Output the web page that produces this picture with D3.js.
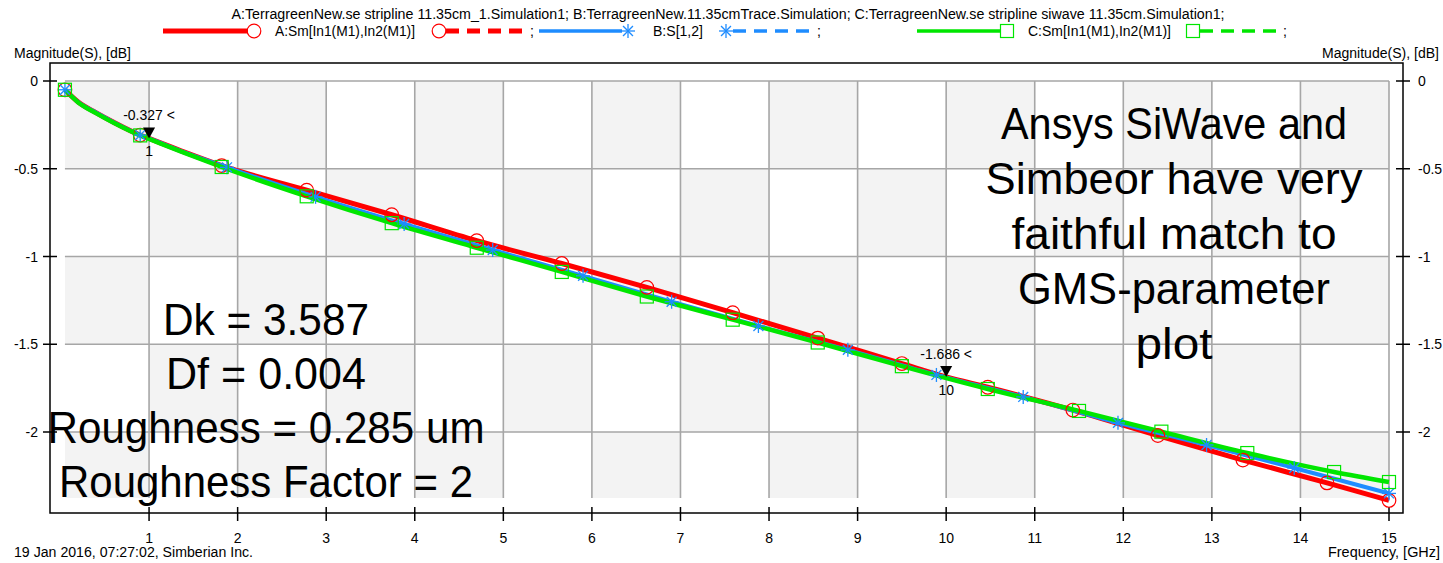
<!doctype html>
<html>
<head>
<meta charset="utf-8"/>
<title>S-parameter comparison</title>
<style>
body{margin:0;background:#fff;}
text{font-family:"Liberation Sans",Arial,sans-serif;}
</style>
<script src="https://d3js.org/d3.v7.min.js"></script>
</head>
<body>
<script>
// ---- data ----
var titleText = "A:TerragreenNew.se stripline 11.35cm_1.Simulation1; B:TerragreenNew.11.35cmTrace.Simulation; C:TerragreenNew.se stripline siwave 11.35cm.Simulation1;";
var seriesNames = ["A:Sm[In1(M1),In2(M1)]", "B:S[1,2]", "C:Sm[In1(M1),In2(M1)]"];

// A (red)
var aFreq = [0.05,0.2,0.4,0.6,0.9,1,1.4,1.82,2.78,3.74,4.70,5.66,6.62,7.59,8.55,9.5,10,10.47,11.43,12.39,13.35,14.3,15];
var aMag  = [-0.05,-0.12,-0.18,-0.235,-0.308,-0.327,-0.405,-0.482,-0.622,-0.762,-0.91,-1.04,-1.176,-1.32,-1.465,-1.61,-1.686,-1.745,-1.875,-2.02,-2.16,-2.29,-2.39];
var aMarks = [0.05,0.9,1.82,2.78,3.74,4.70,5.66,6.62,7.59,8.55,9.5,10.47,11.43,12.39,13.35,14.3,15];

// B (blue)
var bFreq = [0.05,0.2,0.4,0.6,0.9,1,1.4,1.88,2.88,3.88,4.88,5.9,6.9,7.88,8.89,9.89,10.87,11.94,12.94,13.93,15];
var bMag  = [-0.05,-0.12,-0.18,-0.235,-0.308,-0.327,-0.407,-0.492,-0.66,-0.815,-0.963,-1.11,-1.258,-1.396,-1.532,-1.675,-1.80,-1.948,-2.074,-2.205,-2.35];
var bMarks = [0.05,0.9,1.88,2.88,3.88,4.88,5.9,6.9,7.88,8.89,9.89,10.87,11.94,12.94,13.93,15];

// C (green)
var cFreq = [0.05,0.2,0.4,0.6,0.9,1,1.4,1.82,2.78,3.74,4.70,5.66,6.62,7.59,8.55,9.5,10.47,11.5,12.43,13.4,14.38,15];
var cMag  = [-0.05,-0.122,-0.183,-0.238,-0.31,-0.33,-0.41,-0.49,-0.657,-0.81,-0.95,-1.088,-1.228,-1.36,-1.49,-1.625,-1.755,-1.88,-1.998,-2.12,-2.228,-2.285];
var cMarks = [0.05,0.9,1.82,2.78,3.74,4.70,5.66,6.62,7.59,8.55,9.5,10.47,11.5,12.43,13.4,14.38,15];

// data markers on trace A
var mkFreq = [1, 10];
var mkMag = [-0.327, -1.686];
var mkName = ["1", "10"];

var xTicks = [1,2,3,4,5,6,7,8,9,10,11,12,13,14,15];
var yTicks = [0,-0.5,-1,-1.5,-2];
var yTickLabels = ["0","-0.5","-1","-1.5","-2"];

var noteLeft = ["Dk = 3.587","Df = 0.004","Roughness = 0.285 um","Roughness Factor = 2"];
var noteRight = ["Ansys SiWave and","Simbeor have very","faithful match to","GMS-parameter","plot"];

// ---- drawing ----
var W = 1443, H = 563;
var svg = d3.select("body").append("svg").attr("width", W).attr("height", H);

var x = d3.scaleLinear().domain([0, 15]).range([60.5, 1389]);
var y = d3.scaleLinear().domain([0, -2]).range([81, 432]);

var fMin = 0.05, yMin = -2.376;
var colB = [fMin].concat(d3.range(1, 16));
var rowB = [0, -0.5, -1, -1.5, -2, yMin];

// checker background
var cells = [];
for (var c = 0; c < colB.length - 1; c++)
  for (var r = 0; r < rowB.length - 1; r++)
    cells.push({c: c, r: r});
svg.selectAll("rect.cell").data(cells).enter().append("rect")
  .attr("x", function(d){ return x(colB[d.c]); })
  .attr("y", function(d){ return y(rowB[d.r]); })
  .attr("width", function(d){ return x(colB[d.c+1]) - x(colB[d.c]); })
  .attr("height", function(d){ return y(rowB[d.r+1]) - y(rowB[d.r]); })
  .attr("fill", function(d){ return (d.c + d.r) % 2 == 0 ? "#f3f3f3" : "#ffffff"; });

// grid
svg.selectAll("line.vg").data(xTicks).enter().append("line")
  .attr("x1", function(d){ return x(d); }).attr("x2", function(d){ return x(d); })
  .attr("y1", y(0)).attr("y2", y(yMin))
  .attr("stroke", "#a6a6a6").attr("stroke-width", 1.6);
svg.selectAll("line.hg").data(yTicks).enter().append("line")
  .attr("x1", x(fMin)).attr("x2", x(15))
  .attr("y1", function(d){ return y(d); }).attr("y2", function(d){ return y(d); })
  .attr("stroke", "#a6a6a6").attr("stroke-width", 1.6);

// frame
var fx0 = 50, fy0 = 63, fx1 = 1403, fy1 = 513;
svg.append("rect").attr("x", fx0).attr("y", fy0).attr("width", fx1 - fx0).attr("height", fy1 - fy0)
  .attr("fill", "none").attr("stroke", "#000").attr("stroke-width", 1.5);

// ticks
svg.selectAll("line.lt").data(yTicks).enter().append("line")
  .attr("x1", fx0 - 7).attr("x2", fx0 + 7)
  .attr("y1", function(d){ return y(d); }).attr("y2", function(d){ return y(d); })
  .attr("stroke", "#000").attr("stroke-width", 1.5);
svg.selectAll("line.rt").data(yTicks).enter().append("line")
  .attr("x1", fx1 - 7).attr("x2", fx1 + 7)
  .attr("y1", function(d){ return y(d); }).attr("y2", function(d){ return y(d); })
  .attr("stroke", "#000").attr("stroke-width", 1.5);
svg.selectAll("line.bt").data(xTicks).enter().append("line")
  .attr("x1", function(d){ return x(d); }).attr("x2", function(d){ return x(d); })
  .attr("y1", fy1 - 6).attr("y2", fy1 + 8)
  .attr("stroke", "#000").attr("stroke-width", 1.5);

svg.selectAll("text.yl").data(yTicks).enter().append("text")
  .attr("x", 38).attr("y", function(d){ return y(d) + 5; })
  .attr("text-anchor", "end").attr("font-size", 14)
  .text(function(d,i){ return yTickLabels[i]; });
svg.selectAll("text.yr").data(yTicks).enter().append("text")
  .attr("x", 1418).attr("y", function(d){ return y(d) + 5; })
  .attr("font-size", 14)
  .text(function(d,i){ return yTickLabels[i]; });
svg.selectAll("text.xl").data(xTicks).enter().append("text")
  .attr("x", function(d){ return x(d); }).attr("y", 543)
  .attr("text-anchor", "middle").attr("font-size", 14)
  .text(function(d){ return d; });

svg.append("text").attr("x", 14).attr("y", 58).attr("font-size", 14)
  .attr("textLength", 117).attr("lengthAdjust", "spacingAndGlyphs").text("Magnitude(S), [dB]");
svg.append("text").attr("x", 1322).attr("y", 58).attr("font-size", 14)
  .attr("textLength", 117).attr("lengthAdjust", "spacingAndGlyphs").text("Magnitude(S), [dB]");
svg.append("text").attr("x", 14).attr("y", 557).attr("font-size", 14)
  .attr("textLength", 239).attr("lengthAdjust", "spacingAndGlyphs").text("19 Jan 2016, 07:27:02, Simberian Inc.");
svg.append("text").attr("x", 1328).attr("y", 557).attr("font-size", 14)
  .attr("textLength", 112).attr("lengthAdjust", "spacingAndGlyphs").text("Frequency, [GHz]");

// annotations (widths)
var leftW = [206, 200, 437, 414];
var rightW = [346, 377, 325, 312, 77];
svg.selectAll("text.nl").data(noteLeft).enter().append("text")
  .attr("x", function(d,i){ return 266 - leftW[i] / 2; })
  .attr("y", function(d,i){ return 335 + i * 54; })
  .attr("font-size", 45).attr("fill", "#000")
  .attr("textLength", function(d,i){ return leftW[i]; }).attr("lengthAdjust", "spacingAndGlyphs")
  .text(function(d){ return d; });
svg.selectAll("text.nr").data(noteRight).enter().append("text")
  .attr("x", function(d,i){ return 1174 - rightW[i] / 2; })
  .attr("y", function(d,i){ return 139 + i * 55; })
  .attr("font-size", 45).attr("fill", "#000")
  .attr("textLength", function(d,i){ return rightW[i]; }).attr("lengthAdjust", "spacingAndGlyphs")
  .text(function(d){ return d; });

// traces
var series = [
  {f: aFreq, m: aMag, marks: aMarks, color: "#ff0000", w: 5, sym: "circle"},
  {f: bFreq, m: bMag, marks: bMarks, color: "#1e8cff", w: 4, sym: "star"},
  {f: cFreq, m: cMag, marks: cMarks, color: "#00e600", w: 4.5, sym: "square"}
];
var line = d3.line()
  .x(function(d){ return x(d[0]); })
  .y(function(d){ return y(d[1]); })
  .curve(d3.curveMonotoneX);

series.forEach(function(s){
  var pts = s.f.map(function(f, i){ return [f, s.m[i]]; });
  svg.append("path").datum(pts).attr("d", line)
    .attr("fill", "none").attr("stroke", s.color).attr("stroke-width", s.w)
    .attr("stroke-linejoin", "round");
});

function drawSymbol(g, sym, color, cx, cy){
  if (sym == "circle") {
    g.append("circle").attr("cx", cx).attr("cy", cy).attr("r", 6.8)
      .attr("fill", "none").attr("stroke", color).attr("stroke-width", 1.2);
  } else if (sym == "square") {
    g.append("rect").attr("x", cx - 6.5).attr("y", cy - 6.5).attr("width", 13).attr("height", 13)
      .attr("fill", "none").attr("stroke", color).attr("stroke-width", 1.2);
  } else {
    var r = 7;
    [[0,1],[1,0],[0.707,0.707],[0.707,-0.707]].forEach(function(v){
      g.append("line").attr("x1", cx - r*v[0]).attr("y1", cy - r*v[1])
        .attr("x2", cx + r*v[0]).attr("y2", cy + r*v[1])
        .attr("stroke", color).attr("stroke-width", 1.3);
    });
  }
}

var mg = svg.append("g");
series.forEach(function(s){
  s.f.forEach(function(f, i){
    if (s.marks.indexOf(f) >= 0) drawSymbol(mg, s.sym, s.color, x(f), y(s.m[i]));
  });
});

// data markers
mkFreq.forEach(function(f, i){
  var px = x(f), py = y(mkMag[i]);
  svg.append("path").attr("d", "M" + (px-6) + "," + (py-11) + "L" + (px+6) + "," + (py-11) + "L" + px + "," + py + "Z")
    .attr("fill", "#000");
  svg.append("text").attr("x", px).attr("y", py - 18).attr("text-anchor", "middle").attr("font-size", 14)
    .text(mkMag[i].toFixed(3) + " <");
  svg.append("text").attr("x", px).attr("y", py + 18).attr("text-anchor", "middle").attr("font-size", 14)
    .text(mkName[i]);
});

// legend
svg.append("text").attr("x", 728).attr("y", 19).attr("text-anchor", "middle").attr("font-size", 14)
  .attr("textLength", 993).attr("lengthAdjust", "spacingAndGlyphs").text(titleText);

var lg = svg.append("g");
var ly = 31;
var legendRows = [
  {x0: 163, x1: 254, tx: 275, tw: 140, s2: 439, d1: 525, semi: 530},
  {x0: 539, x1: 628, tx: 653, tw: 50, s2: 726, d1: 812, semi: 817},
  {x0: 917, x1: 1007, tx: 1028, tw: 143, s2: 1193, d1: 1277, semi: 1283}
];
series.forEach(function(s, i){
  var L = legendRows[i];
  var lw = i == 0 ? 5 : 3.5;
  lg.append("line").attr("x1", L.x0).attr("x2", L.x1 - 6).attr("y1", ly).attr("y2", ly)
    .attr("stroke", s.color).attr("stroke-width", lw);
  drawSymbol(lg, s.sym, s.color, L.x1, ly);
  lg.append("text").attr("x", L.tx).attr("y", ly + 5).attr("font-size", 14)
    .attr("textLength", L.tw).attr("lengthAdjust", "spacingAndGlyphs").text(seriesNames[i]);
  drawSymbol(lg, s.sym, s.color, L.s2, ly);
  lg.append("line").attr("x1", L.s2 + 7).attr("x2", L.d1).attr("y1", ly).attr("y2", ly)
    .attr("stroke", s.color).attr("stroke-width", lw).attr("stroke-dasharray", "13,8");
  lg.append("text").attr("x", L.semi).attr("y", ly + 5).attr("font-size", 14).text(";");
});
</script>
</body>
</html>
